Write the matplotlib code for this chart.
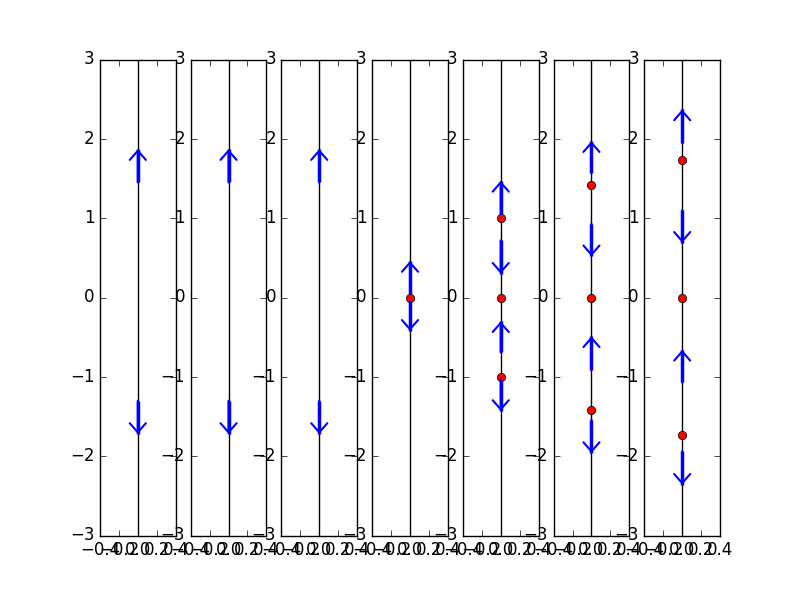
import matplotlib
matplotlib.use('Agg')
import matplotlib.pyplot as plt
from matplotlib.ticker import MultipleLocator

plt.style.use('classic')

# fixed points (red dots) for each of the 7 panels
fixed_points = [
    [],
    [],
    [],
    [0.0],
    [-1.0, 0.0, 1.0],
    [-1.414, 0.0, 1.414],
    [-1.732, 0.0, 1.732],
]

# flow arrows for each panel: (start, end) along the line
arrows = [
    [(1.45, 1.87), (-1.3, -1.72)],
    [(1.45, 1.87), (-1.3, -1.72)],
    [(1.45, 1.87), (-1.3, -1.72)],
    [(0.05, 0.46), (-0.05, -0.42)],
    [(1.05, 1.47), (0.72, 0.30), (-0.69, -0.30), (-1.03, -1.43)],
    [(1.57, 1.97), (0.93, 0.52), (-0.91, -0.49), (-1.54, -1.96)],
    [(1.95, 2.37), (1.10, 0.69), (-1.07, -0.66), (-1.94, -2.36)],
]

fig = plt.figure(figsize=(8, 5.95), dpi=100)

for i in range(7):
    ax = fig.add_subplot(1, 7, i + 1)
    ax.plot([0, 0], [-3, 3], 'k-')
    for y0, y1 in arrows[i]:
        # thick shaft, thin open head
        ax.plot([0, 0], [y0, y1], 'b-', lw=2.5, solid_capstyle='butt')
        ax.annotate('', xy=(0, y1), xytext=(0, y0),
                    arrowprops=dict(arrowstyle='->,head_length=0.33,head_width=0.29',
                                    color='b', lw=1.5,
                                    mutation_scale=20, shrinkA=0, shrinkB=0))
    if fixed_points[i]:
        ax.plot([0] * len(fixed_points[i]), fixed_points[i], 'ro')
    ax.set_xlim(-0.4, 0.4)
    ax.set_ylim(-3, 3)
    ax.xaxis.set_major_locator(MultipleLocator(0.2))

fig.savefig('out.png', dpi=100)
